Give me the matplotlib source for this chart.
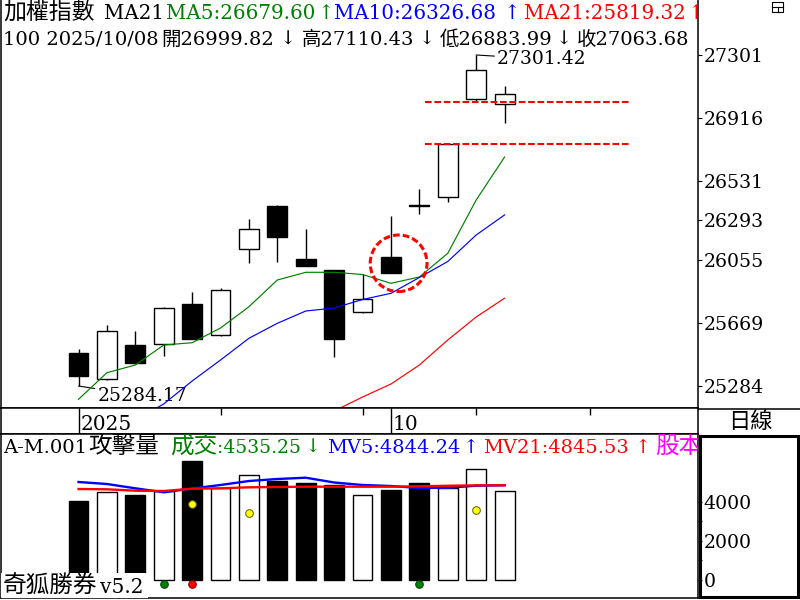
import numpy as np
import matplotlib.pyplot as plt
from matplotlib.patches import Ellipse, Rectangle
from matplotlib.transforms import Affine2D
from matplotlib.lines import Line2D

plt.rcParams['font.family'] = ['DejaVu Serif', 'Noto Sans CJK TC', 'DejaVu Sans']

# daily candles, last 16 sessions
opens = [25483.5, 25325.0, 25534.0, 25538.3, 25783.9, 25593.1, 26117.3, 26381.0,
         26058.1, 25991.1, 25733.3, 26070.3, 26388.0, 26434.2, 27031.4, 26999.82]
highs = [25509.7, 25655.9, 25619.3, 25765.0, 25857.0, 25883.2, 26301.9, 26387.3,
         26241.0, 25991.1, 25964.9, 26322.0, 26484.8, 26757.2, 27301.42, 27110.43]
lows = [25284.17, 25320.0, 25420.0, 25468.8, 25568.0, 25590.0, 26035.6, 26041.7,
        26015.0, 25462.7, 25730.0, 25970.0, 26330.6, 26407.4, 27015.0, 26883.99]
closes = [25346.9, 25617.5, 25426.2, 25759.5, 25572.4, 25869.2, 26239.1, 26194.0,
          26017.3, 25572.4, 25814.4, 25974.6, 26380.0, 26757.2, 27208.2, 27063.68]

nan = np.nan
ma5 = [25203.1, 25365.2, 25412.1, 25534.0, 25548.0, 25637.6, 25767.4, 25930.2,
       25977.1, 25977.1, 25963.7, 25910.0, 25948.4, 26092.9, 26417.7, 26679.60]
ma10 = [nan, nan, 25076.9, 25174.5, 25314.6, 25442.6, 25574.9, 25666.3,
        25741.2, 25759.5, 25811.3, 25849.1, 25945.4, 26042.9, 26204.4, 26326.68]
ma21 = [nan, nan, nan, nan, nan, nan, nan, nan,
        nan, 25131.8, 25217.1, 25296.3, 25412.1, 25564.5, 25704.7, 25819.32]

# attack volume panel
vol = [4036, 4483, 4344, 4540, 6093, 4720, 5357, 5064,
       4952, 4859, 4329, 4602, 4952, 4710, 5666, 4535.25]
mv5 = [5013, 4910, 4689, 4483, 4679, 4859, 5064, 5167,
       5234, 4987, 4859, 4807, 4704, 4720, 4823, 4844.24]
mv21 = [4653, 4638, 4566, 4550, 4668, 4689, 4740, 4756,
        4771, 4771, 4771, 4771, 4790, 4820, 4840, 4845.53]
yellow_idx = [4, 6, 14]
yellow_val = [3897, 3434, 3589]
green_idx = [3, 12]
red_idx = [4]
dot_val = -216

price_ticks = [27301, 26916, 26531, 26293, 26055, 25669, 25284]
vol_ticks = [0, 2000, 4000]
vol_minor = [1000, 3000]
date_marks = [0, 11]
date_labels = ["2025", "10"]
week_ticks = [5, 10, 14, 18]
last_date = "2025/10/08"

x = np.arange(len(opens))
o, h, l, c = map(np.array, (opens, highs, lows, closes))
up = c >= o

PIX = Affine2D().scale(1, -1).translate(0, 600)   # pixel coords, origin top-left


def frame(x0, y0, x1, y1):
    return [x0 / 800, 1 - y1 / 600, (x1 - x0) / 800, (y1 - y0) / 600]


def arrow(vals):
    return "↑" if vals[-1] >= vals[-2] else "↓"


def put(axis, px, py, s, color="black", size=14, ha="left"):
    axis.text(px, py, s, transform=PIX, color=color, fontsize=size, ha=ha,
              va="baseline", clip_on=True, zorder=10)


fig = plt.figure(figsize=(8, 6), dpi=100)
ax = fig.add_axes(frame(1, 0, 698, 408))
axd = fig.add_axes(frame(1, 408, 698, 434))
axv = fig.add_axes(frame(1, 434, 698, 598))

xlim = (-2.729, 21.81)
for a in (ax, axd, axv):
    a.set_xlim(*xlim)
    a.set_xticks([])
    for s in a.spines.values():
        s.set_linewidth(1.1)
ax.spines['top'].set_visible(False)

# ---- price panel
ax.set_ylim(25150.1, 27636.6)
ax.vlines(x, l, h, color="black", lw=1.0, zorder=2)
ax.bar(x, np.abs(c - o), bottom=np.minimum(o, c), width=0.70,
       color=np.where(up, "white", "black"), edgecolor="black", lw=1.0, zorder=3)
ax.plot(x, ma5, color="#008000", lw=0.85, zorder=4)
ax.plot(x, ma10, color="#0000ff", lw=0.85, zorder=4)
ax.plot(x, ma21, color="#ff0000", lw=0.85, zorder=4)

# gap lines between candle 14 high and candle 15 low
gap_x = (12.2, 19.4)
for lvl in (lows[14], highs[13]):
    ax.plot(gap_x, [lvl, lvl], color="#ff0000", lw=1.5, ls=(0, (3.2, 1.3)), zorder=4)

ax.add_patch(Ellipse((11.27, 26032), 2.0, 345, fill=False, edgecolor="#ff0000",
                     lw=2.2, ls=(0, (2.2, 1.0)), zorder=5))

imax = int(np.argmax(h))
imin = int(np.argmin(l))
ax.annotate(f"{h[imax]:.2f}", xy=(imax, h[imax]), xytext=(21, -4), textcoords="offset pixels",
            ha="left", va="center", fontsize=13.5,
            arrowprops=dict(arrowstyle="-", color="black", lw=0.8, shrinkA=0, shrinkB=0))
ax.annotate(f"{l[imin]:.2f}", xy=(imin, l[imin]), xytext=(19, -10), textcoords="offset pixels",
            ha="left", va="center", fontsize=13.5,
            arrowprops=dict(arrowstyle="-", color="black", lw=0.8, shrinkA=0, shrinkB=0))

ax.yaxis.tick_right()
ax.set_yticks(price_ticks)
ax.set_yticklabels([str(t) for t in price_ticks])
ax.tick_params(axis="y", direction="out", length=3, width=0.8, pad=1, labelsize=13.6)

# header lines
put(ax, 3, 19, "加權指數", size=16.5)
put(ax, 104, 19, "MA21", size=14.3)
put(ax, 166, 19, f"MA5:{ma5[-1]:.2f}", "#008000", 14.3)
put(ax, 326, 19, arrow(ma5), "#008000", 14.3, "center")
put(ax, 334, 19, f"MA10:{ma10[-1]:.2f}", "#0000ff", 14.3)
put(ax, 512, 19, arrow(ma10), "#0000ff", 14.3, "center")
put(ax, 524, 19, f"MA21:{ma21[-1]:.2f}", "#ff0000", 14.3)
put(ax, 696, 19, arrow(ma21), "#ff0000", 14.3, "center")

put(ax, 3, 45, f"100 {last_date}")
put(ax, 161, 45, f"開{opens[-1]:.2f}")
put(ax, 288, 45, arrow(opens), ha="center")
put(ax, 302, 45, f"高{highs[-1]:.2f}")
put(ax, 427, 45, arrow(highs), ha="center")
put(ax, 440, 45, f"低{lows[-1]:.2f}")
put(ax, 564, 45, arrow(lows), ha="center")
put(ax, 577, 45, f"收{closes[-1]:.2f}")

# ---- date strip
axd.set_ylim(0, 1)
axd.set_yticks([])
axd.vlines(date_marks, 0, 1, color="black", lw=1.0)
axd.vlines(week_ticks, 0.75, 1, color="black", lw=1.0)
for i, lab in zip(date_marks, date_labels):
    axd.annotate(lab, xy=(i, 0), xycoords=("data", "axes fraction"), xytext=(2, 4),
                 textcoords="offset pixels", ha="left", va="baseline", fontsize=14.5)

# ---- volume panel
axv.set_ylim(-951, 7481)
axv.bar(x, vol, width=0.70, color=np.where(up, "white", "black"),
        edgecolor="black", lw=1.0, zorder=2)
axv.plot(x, mv5, color="#0000ff", lw=1.7, zorder=3)
axv.plot(x, mv21, color="#ff0000", lw=1.7, zorder=3)
axv.plot(yellow_idx, yellow_val, "o", ms=5.5, mfc="#ffff00", mec="#606000", mew=0.7, zorder=4)
axv.plot(green_idx, [dot_val] * len(green_idx), "o", ms=5.5, mfc="#008000", mec="#004000",
         mew=0.7, zorder=4)
axv.plot(red_idx, [dot_val] * len(red_idx), "o", ms=5.5, mfc="#ff0000", mec="#800000",
         mew=0.7, zorder=4)

axv.yaxis.tick_right()
axv.set_yticks(vol_ticks)
axv.set_yticklabels([str(t) for t in vol_ticks])
axv.set_yticks(vol_minor, minor=True)
axv.tick_params(axis="y", which="both", direction="out", length=3, width=0.8, pad=1,
                labelsize=13.6)

put(axv, 3, 453, "A-M.001")
put(axv, 88, 453, "攻擊量", size=17)
put(axv, 170, 453, "成交", "#008000", 17)
put(axv, 217, 453, f":{vol[-1]:.2f}", "#008000", 13.5)
put(axv, 313, 453, arrow(vol), "#008000", ha="center")
put(axv, 327, 453, f"MV5:{mv5[-1]:.2f}", "#0000ff")
put(axv, 471, 453, arrow(mv5), "#0000ff", ha="center")
put(axv, 483, 453, f"MV21:{mv21[-1]:.2f}", "#ff0000")
put(axv, 643, 453, arrow(mv21), "#ff0000", ha="center")
put(axv, 655, 453, "股本", "#ff00ff", 17)

axv.add_patch(Rectangle((1, 573), 147, 25, transform=PIX, facecolor="white",
                        edgecolor="none", zorder=8))
put(axv, 3, 593, "奇狐勝券", size=17)
put(axv, 100, 593, "v5.2", size=14.5)

# ---- right-hand frame pieces
fig.add_artist(Line2D([698, 800], [408.5, 408.5], transform=PIX, color="black", lw=1.1))
fig.add_artist(Rectangle((699.5, 435.5), 98, 161.5, transform=PIX, fill=False,
                         edgecolor="black", lw=2.2))
fig.text(750, 422, "日線", transform=PIX, fontsize=16, ha="center", va="center")
fig.add_artist(Rectangle((772, 2), 11, 10, transform=PIX, fill=False, edgecolor="black", lw=0.8))
fig.add_artist(Line2D([772, 783], [7, 7], transform=PIX, color="black", lw=0.8))
fig.add_artist(Line2D([777.5, 777.5], [7, 12], transform=PIX, color="black", lw=0.8))

fig.savefig("out.png", dpi=100)
